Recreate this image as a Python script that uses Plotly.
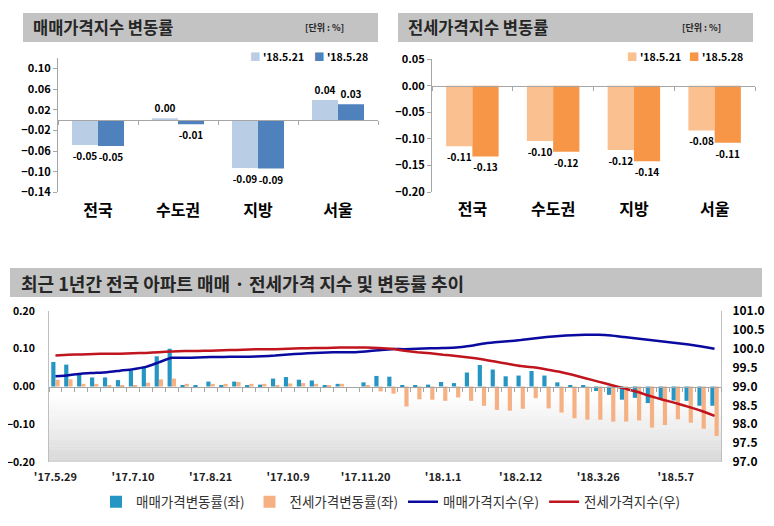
import plotly.graph_objects as go

FONT = "Noto Sans CJK KR, Noto Sans, sans-serif"

# ---------------- data ----------------
regions = ["전국", "수도권", "지방", "서울"]
sale_0521 = [-0.048, 0.002, -0.093, 0.039]
sale_0528 = [-0.050, -0.008, -0.094, 0.031]
jeonse_0521 = [-0.114, -0.104, -0.121, -0.084]
jeonse_0528 = [-0.133, -0.124, -0.142, -0.107]
date_labels = ["'18.5.21", "'18.5.28"]

weeks = ["'17.5.29", "'17.6.5", "'17.6.12", "'17.6.19", "'17.6.26", "'17.7.3", "'17.7.10",
         "'17.7.17", "'17.7.24", "'17.7.31", "'17.8.7", "'17.8.14", "'17.8.21", "'17.8.28",
         "'17.9.4", "'17.9.11", "'17.9.18", "'17.9.25", "'17.10.9", "'17.10.16", "'17.10.23",
         "'17.10.30", "'17.11.6", "'17.11.13", "'17.11.20", "'17.11.27", "'17.12.4",
         "'17.12.11", "'17.12.18", "'17.12.25", "'18.1.1", "'18.1.8", "'18.1.15", "'18.1.22",
         "'18.1.29", "'18.2.5", "'18.2.12", "'18.2.19", "'18.2.26", "'18.3.5", "'18.3.12",
         "'18.3.19", "'18.3.26", "'18.4.2", "'18.4.9", "'18.4.16", "'18.4.23", "'18.4.30",
         "'18.5.7", "'18.5.14", "'18.5.21", "'18.5.28"]
week_tick_labels = ["'17.5.29", "'17.7.10", "'17.8.21", "'17.10.9", "'17.11.20",
                    "'18.1.1", "'18.2.12", "'18.3.26", "'18.5.7"]

sale_rate = [0.065, 0.058, 0.035, 0.024, 0.024, 0.017, 0.042, 0.053, 0.080, 0.100,
             0.003, 0.004, 0.013, 0.003, 0.013, 0.003, 0.005, 0.021, 0.025, 0.018,
             0.016, 0.002, 0.007, 0.000, 0.011, 0.028, 0.026, 0.002, 0.002, 0.005,
             0.012, 0.009, 0.037, 0.057, 0.045, 0.027, 0.029, 0.041, 0.029, 0.011,
             0.002, 0.004, -0.012, -0.022, -0.035, -0.030, -0.044, -0.035, -0.037, -0.038,
             -0.051, -0.051]
jeonse_rate = [0.018, 0.019, 0.007, 0.007, 0.004, 0.004, 0.004, 0.010, 0.019, 0.021,
               0.007, 0.000, 0.007, 0.007, 0.012, 0.007, 0.007, 0.004, 0.008, 0.009,
               0.007, 0.002, 0.007, 0.000, 0.002, -0.013, -0.019, -0.053, -0.034, -0.035,
               -0.038, -0.029, -0.038, -0.051, -0.062, -0.064, -0.059, -0.031, -0.058, -0.069,
               -0.084, -0.088, -0.088, -0.093, -0.093, -0.090, -0.109, -0.102, -0.087, -0.096,
               -0.112, -0.131]
sale_index = [99.27, 99.30, 99.34, 99.36, 99.38, 99.42, 99.46, 99.52, 99.64, 99.76,
              99.76, 99.77, 99.78, 99.78, 99.79, 99.79, 99.80, 99.82, 99.85, 99.87,
              99.89, 99.90, 99.91, 99.91, 99.93, 99.96, 99.99, 99.99, 100.00, 100.01,
              100.02, 100.03, 100.07, 100.13, 100.17, 100.20, 100.23, 100.27, 100.31, 100.34,
              100.36, 100.37, 100.37, 100.35, 100.31, 100.27, 100.23, 100.19, 100.15, 100.11,
              100.06, 100.00]
jeonse_index = [99.82, 99.84, 99.85, 99.86, 99.87, 99.87, 99.88, 99.89, 99.91, 99.93,
                99.94, 99.94, 99.95, 99.96, 99.97, 99.98, 99.99, 99.99, 100.00, 100.01,
                100.02, 100.02, 100.03, 100.03, 100.03, 100.02, 100.00, 99.95, 99.91, 99.88,
                99.84, 99.81, 99.77, 99.72, 99.66, 99.60, 99.54, 99.51, 99.45, 99.39,
                99.31, 99.22, 99.13, 99.04, 98.95, 98.86, 98.75, 98.65, 98.56, 98.46,
                98.35, 98.22]

# ---------------- figure ----------------
W, H = 774, 526
OFF = 8  # the page body adds an 8px margin around the figure

def px(x):
    return (x - OFF) / W

def py(y):
    return 1 - (y - OFF) / H

fig = go.Figure()
lab_font = dict(family=FONT, size=10, color="#000000", weight="bold")

def top_bar(x, y, name, color, xa, ya):
    fig.add_trace(go.Bar(x=x, y=y, name=name, marker_color=color, marker_line_width=0,
                         xaxis=xa, yaxis=ya, showlegend=False,
                         texttemplate="%{y:.2f}", textposition="outside",
                         constraintext="none", cliponaxis=False, textfont=lab_font,
                         hoverinfo="skip"))

top_colors_sale = ["#B9CDE5", "#4F81BD"]
top_colors_jeonse = ["#FAC090", "#F79646"]
top_bar(regions, sale_0521, date_labels[0], top_colors_sale[0], "x", "y")
top_bar(regions, sale_0528, date_labels[1], top_colors_sale[1], "x", "y")
top_bar(regions, jeonse_0521, date_labels[0], top_colors_jeonse[0], "x2", "y2")
top_bar(regions, jeonse_0528, date_labels[1], top_colors_jeonse[1], "x2", "y2")

fig.add_trace(go.Bar(x=weeks, y=sale_rate, name="매매가격변동률(좌)", marker_color="#2596C4",
                     marker_line_width=0, xaxis="x3", yaxis="y3", legend="legend3"))
fig.add_trace(go.Bar(x=weeks, y=jeonse_rate, name="전세가격변동률(좌)", marker_color="#F5B183",
                     marker_line_width=0, xaxis="x3", yaxis="y3", legend="legend3"))
fig.add_trace(go.Scatter(x=weeks, y=sale_index, name="매매가격지수(우)", mode="lines",
                         line=dict(color="#0A0AA0", width=2.5, shape="spline", smoothing=0.5),
                         xaxis="x3", yaxis="y4", legend="legend3"))
fig.add_trace(go.Scatter(x=weeks, y=jeonse_index, name="전세가격지수(우)", mode="lines",
                         line=dict(color="#C0141E", width=2.5, shape="spline", smoothing=0.5),
                         xaxis="x3", yaxis="y4", legend="legend3"))

# invisible traces to carry the zero-line tick axes
fig.add_trace(go.Scatter(x=regions, y=[None] * 4, xaxis="x4", yaxis="y", showlegend=False, hoverinfo="skip"))
fig.add_trace(go.Scatter(x=regions, y=[None] * 4, xaxis="x5", yaxis="y2", showlegend=False, hoverinfo="skip"))
fig.add_trace(go.Scatter(x=weeks, y=[None] * len(weeks), xaxis="x6", yaxis="y3", showlegend=False, hoverinfo="skip"))

tick_font = dict(family=FONT, size=11, color="#000000", weight="bold")
cat_font = dict(family=FONT, size=16, color="#000000", weight="bold")
grey = "#A6A6A6"

dom_x1 = [px(58), px(378)]
dom_y1 = [py(192.3), py(58.3)]
dom_x2 = [px(432), px(755)]
dom_y2 = [py(192), py(59.3)]
dom_x3 = [px(49), px(721)]
dom_y3 = [py(462), py(311)]

def zero_pos(dom, lo, hi):
    return dom[0] + (0 - lo) / (hi - lo) * (dom[1] - dom[0])

zero_axis = dict(anchor="free", type="category", tickson="boundaries", tickmode="linear",
                 tick0=0, dtick=1, ticks="outside", ticklen=4, tickcolor=grey,
                 showline=True, linecolor=grey, linewidth=1, showticklabels=False,
                 showgrid=False, zeroline=False, side="bottom", automargin=False)

fig.update_layout(
    width=W, height=H, margin=dict(l=0, r=0, t=0, b=0, autoexpand=False),
    paper_bgcolor="white", plot_bgcolor="rgba(0,0,0,0)",
    font=dict(family=FONT, color="#000000"),
    barmode="group", bargap=0.35, bargroupgap=0.0,
    xaxis=dict(domain=dom_x1, anchor="y", type="category", range=[-0.5, 3.5], automargin=False,
               showline=False, ticks="outside", ticklen=3, tickcolor="rgba(0,0,0,0)",
               tickfont=cat_font, showgrid=False),
    yaxis=dict(domain=dom_y1, anchor="x", range=[-0.14, 0.12], tick0=-0.14, dtick=0.04,
               tickformat=".2f", showgrid=False, zeroline=False, showline=True, automargin=False,
               linecolor=grey, ticks="outside", ticklen=4, tickcolor=grey, tickfont=tick_font),
    xaxis2=dict(domain=dom_x2, anchor="y2", type="category", range=[-0.5, 3.5], automargin=False,
                showline=False, ticks="outside", ticklen=3, tickcolor="rgba(0,0,0,0)",
                tickfont=cat_font, showgrid=False),
    yaxis2=dict(domain=dom_y2, anchor="x2", range=[-0.20, 0.05], tick0=-0.20, dtick=0.05,
                tickformat=".2f", showgrid=False, zeroline=False, showline=True, automargin=False,
                linecolor=grey, ticks="outside", ticklen=4, tickcolor=grey, tickfont=tick_font),
    xaxis3=dict(domain=dom_x3, anchor="y3", type="category", range=[-0.5, len(weeks) - 0.5],
                tickmode="array", tickvals=week_tick_labels, ticktext=week_tick_labels,
                ticks="outside", ticklen=5, tickcolor="rgba(0,0,0,0)", automargin=False,
                showline=False, showgrid=False,
                tickfont=dict(family=FONT, size=11, color="#222222", weight="bold")),
    yaxis3=dict(domain=dom_y3, anchor="x3", range=[-0.2, 0.2], dtick=0.1, tickformat=".2f",
                showgrid=False, zeroline=False, showline=True, linecolor="#BFBFBF", automargin=False,
                ticks="outside", ticklen=11, tickcolor="rgba(0,0,0,0)",
                tickfont=dict(family=FONT, size=10.5, color="#000000", weight="bold")),
    yaxis4=dict(overlaying="y3", anchor="x3", side="right", range=[97, 101], dtick=0.5,
                tickformat=".1f", showgrid=False, zeroline=False, showline=True, automargin=False,
                linecolor="#BFBFBF", ticks="outside", ticklen=8, tickcolor="rgba(0,0,0,0)",
                tickfont=dict(family=FONT, size=12, color="#000000", weight="bold")),
    xaxis4=dict(overlaying="x", position=zero_pos(dom_y1, -0.14, 0.12), range=[-0.5, 3.5], **zero_axis),
    xaxis5=dict(overlaying="x2", position=zero_pos(dom_y2, -0.20, 0.05), range=[-0.5, 3.5], **zero_axis),
    xaxis6=dict(overlaying="x3", position=zero_pos(dom_y3, -0.2, 0.2), range=[-0.5, len(weeks) - 0.5], **zero_axis),
    legend3=dict(x=px(96), y=py(502), xanchor="left", yanchor="middle", orientation="h",
                 bgcolor="rgba(0,0,0,0)", itemwidth=30,
                 font=dict(family=FONT, size=13.5, color="#333333")),
)

# header bars
shapes = []
for x0, x1, y0, y1 in [(23, 378, 13, 42), (398, 753, 13, 42), (10, 762, 268, 297)]:
    shapes.append(dict(type="rect", xref="paper", yref="paper", x0=px(x0), x1=px(x1),
                       y0=py(y1), y1=py(y0), fillcolor="#C3C3C3", line_width=0, layer="below"))

# soft grey gradient at the bottom of the trend plot area
n = 30
g_top = dom_y3[0] + 0.44 * (dom_y3[1] - dom_y3[0])
for k in range(n):
    t0 = k / n
    t1 = (k + 1) / n
    c = int(round(214 + 41 * (t0 ** 0.8)))
    shapes.append(dict(type="rect", xref="paper", yref="paper", x0=dom_x3[0], x1=dom_x3[1],
                       y0=dom_y3[0] + t0 * (g_top - dom_y3[0]),
                       y1=dom_y3[0] + t1 * (g_top - dom_y3[0]) + 0.0005,
                       fillcolor=f"rgb({c},{c},{c})", line_width=0, layer="below"))
fig.update_layout(shapes=shapes)

head_font = dict(family=FONT, size=16.5, color="#262626", weight="bold")
unit_font = dict(family=FONT, size=9, color="#262626", weight="bold")
leg_font = dict(family=FONT, size=10.5, color="#000000", weight="bold")

def legend_note(x, color, text):
    return dict(text=f"<span style='color:{color}'>■</span> {text}", x=px(x), y=py(57),
                xref="paper", yref="paper", xanchor="left", yanchor="middle",
                showarrow=False, font=leg_font)

annotations = [
    dict(text="매매가격지수 변동률", x=px(31), y=py(27.5), xref="paper", yref="paper",
         xanchor="left", yanchor="middle", showarrow=False, font=head_font),
    dict(text="[단위 : %]", x=px(303), y=py(28), xref="paper", yref="paper",
         xanchor="left", yanchor="middle", showarrow=False, font=unit_font),
    dict(text="전세가격지수 변동률", x=px(406), y=py(27.5), xref="paper", yref="paper",
         xanchor="left", yanchor="middle", showarrow=False, font=head_font),
    dict(text="[단위 : %]", x=px(680), y=py(28), xref="paper", yref="paper",
         xanchor="left", yanchor="middle", showarrow=False, font=unit_font),
    dict(text="최근 1년간 전국 아파트 매매 · 전세가격 지수 및 변동률 추이", x=px(19), y=py(283),
         xref="paper", yref="paper", xanchor="left", yanchor="middle", showarrow=False,
         font=dict(family=FONT, size=18, color="#262626", weight="bold")),
    legend_note(248, top_colors_sale[0], date_labels[0]),
    legend_note(312, top_colors_sale[1], date_labels[1]),
    legend_note(625, top_colors_jeonse[0], date_labels[0]),
    legend_note(687, top_colors_jeonse[1], date_labels[1]),
]
fig.update_layout(annotations=annotations)

fig.write_html("out.html")
